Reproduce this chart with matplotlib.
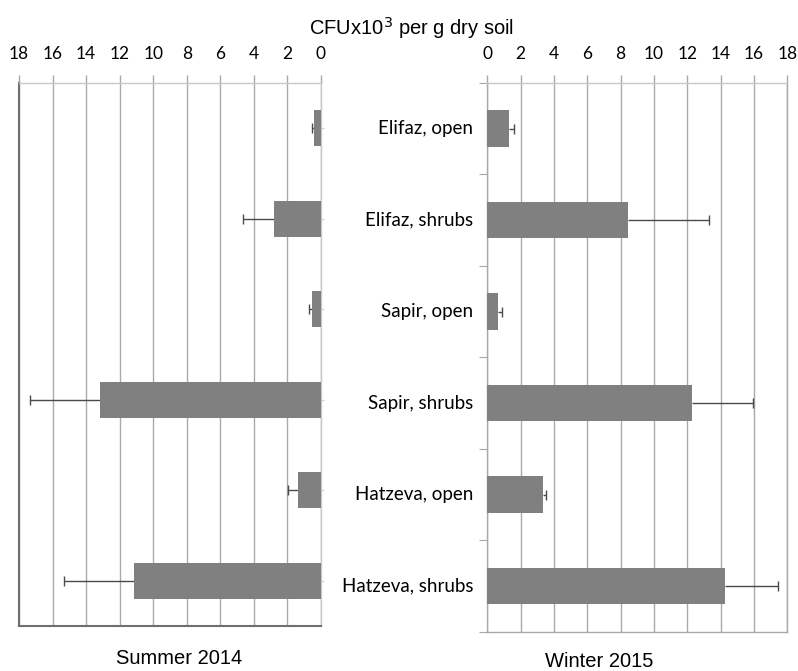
import numpy as np
import matplotlib.pyplot as plt
from matplotlib.transforms import blended_transform_factory

# sites / habitats, top to bottom
categorias = ['Elifaz, open', 'Elifaz, shrubs', 'Sapir, open',
              'Sapir, shrubs', 'Hatzeva, open', 'Hatzeva, shrubs']

# CFU x10^3 per g dry soil
verao = [0.42, 2.82, 0.52, 13.2, 1.39, 11.13]
verao_err = [0.10, 1.85, 0.18, 4.14, 0.56, 4.20]
inverno = [1.30, 8.44, 0.64, 12.27, 3.34, 14.26]
inverno_err = [0.30, 4.84, 0.22, 3.68, 0.18, 3.16]

xticks = [0, 2, 4, 6, 8, 10, 12, 14, 16, 18]

fonte_eixo = 'Lato'
fonte_titulo = 'Liberation Sans'
cinza_barra = '#808080'
cinza_grade = '#a9a9a9'
cor_erro = '#4a4a4a'


def painel(ax, valores, erros):
    y = np.arange(len(categorias))
    valores = np.array(valores)
    fim = valores + np.array(erros)
    ax.barh(y, valores, height=0.4, color=cinza_barra, zorder=3)
    # erro so pra fora, com cap so na ponta
    ax.hlines(y, valores, fim, color=cor_erro, linewidth=1, zorder=2)
    ax.plot(fim, y, ls='none', marker='|', ms=7, mew=1, color=cor_erro, zorder=2)
    ax.set_xlim(0, 18)
    ax.set_ylim(len(categorias) - 0.5, -0.5)
    ax.set_xticks(xticks)
    ax.xaxis.tick_top()
    ax.tick_params(axis='x', direction='out', length=6, width=1,
                   color=cinza_grade, labelsize=12.5, pad=9, labelcolor='black')
    for lab in ax.get_xticklabels():
        lab.set_fontfamily(fonte_eixo)
    ax.grid(axis='x', color=cinza_grade, linewidth=1, zorder=0)
    for s in ax.spines.values():
        s.set_color(cinza_grade)
        s.set_linewidth(1)


fig = plt.figure(figsize=(7.98, 6.71), dpi=100)

# ---------- VERAO (eixo invertido) ----------
ax1 = fig.add_axes([19 / 798, 1 - 626 / 671, 302 / 798, 543 / 671])
painel(ax1, verao, verao_err)
ax1.set_xlim(18, 0)
ax1.yaxis.tick_right()
ax1.set_yticks(np.arange(len(categorias)))
ax1.set_yticklabels([])
ax1.tick_params(axis='y', length=2, color='#d0d0d0')
ax1.spines['left'].set_color('#707070')
ax1.spines['left'].set_linewidth(1.5)
ax1.spines['bottom'].set_color('#707070')
ax1.spines['bottom'].set_linewidth(1.5)
ax1.spines['top'].set_color('#c8c8c8')
ax1.spines['right'].set_color('#c8c8c8')

# ---------- INVERNO ----------
ax2 = fig.add_axes([487.3 / 798, 1 - 631.7 / 671, 300 / 798, 548.7 / 671])
painel(ax2, inverno, inverno_err)
ax2.set_yticks(np.arange(len(categorias) + 1) - 0.5)
ax2.set_yticklabels([])
ax2.tick_params(axis='y', direction='out', length=6, color=cinza_grade)
ax2.spines['top'].set_color('#c8c8c8')

# nomes das categorias no meio
trans = blended_transform_factory(fig.transFigure, ax2.transData)
for i, nome in enumerate(categorias):
    ax2.text(473 / 798, i, nome, transform=trans, ha='right', va='center',
             fontsize=13.5, fontfamily=fonte_eixo, color='black')

fig.text(411 / 798, 1 - 28 / 671, 'CFUx10$^3$ per g dry soil', ha='center',
         va='center', fontsize=14.5, fontfamily=fonte_titulo)
fig.text(179 / 798, 1 - 658 / 671, 'Summer 2014', ha='center', va='center',
         fontsize=14.5, fontfamily=fonte_titulo)
fig.text(599 / 798, 1 - 661.7 / 671, 'Winter 2015', ha='center', va='center',
         fontsize=14.5, fontfamily=fonte_titulo)

fig.savefig('out.png', dpi=100)
